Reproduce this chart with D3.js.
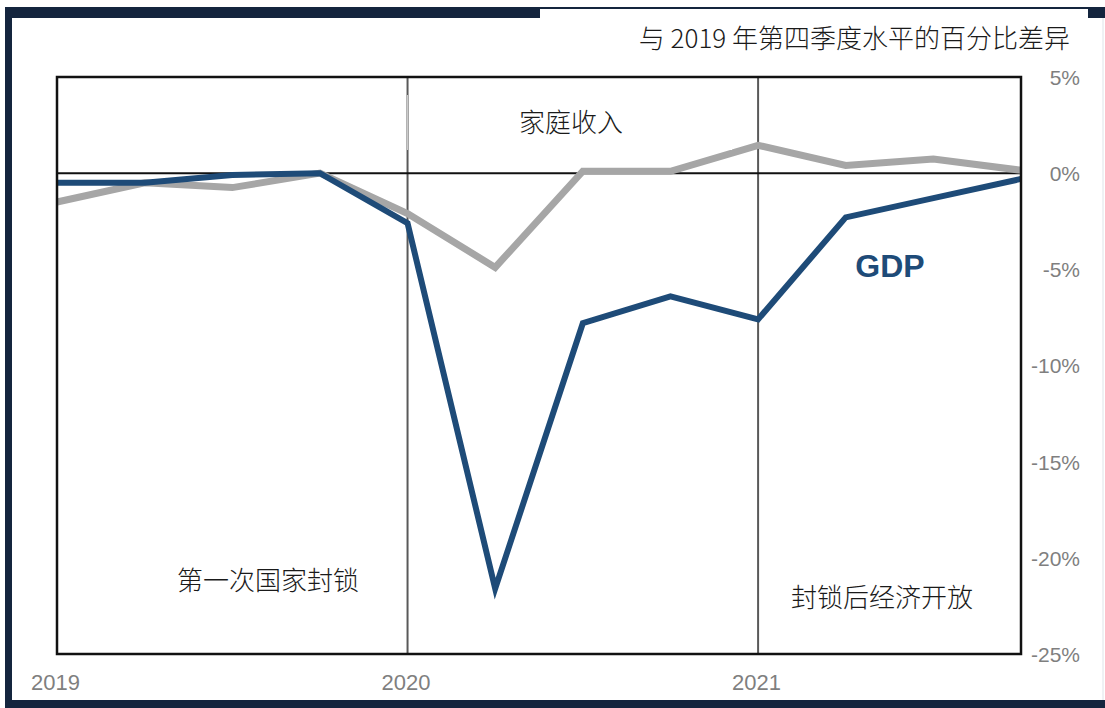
<!DOCTYPE html>
<html>
<head>
<meta charset="utf-8">
<script src="https://cdn.jsdelivr.net/npm/d3@7"></script>
<style>
  body { margin: 0; background: #fff; }
  svg { display: block; }
</style>
</head>
<body>
<div id="chart"></div>
<script>
// Quarters from 2019 Q1 to 2021 Q4
const quarters = ["2019Q1","2019Q2","2019Q3","2019Q4","2020Q1","2020Q2","2020Q3","2020Q4","2021Q1","2021Q2","2021Q3","2021Q4"];
// % difference from 2019 Q4 level
const gdp    = [-0.5, -0.5, -0.1, 0.0, -2.6, -21.6, -7.8, -6.4, -7.6, -2.3, -1.3, -0.3];
const income = [-1.5, -0.5, -0.75, 0.0, -2.1, -4.9, 0.1, 0.1, 1.45, 0.4, 0.73, 0.15];
const yearTicks = [{ q: "2019Q1", label: "2019" }, { q: "2020Q1", label: "2020" }, { q: "2021Q1", label: "2021" }];
const yTicks = [5, 0, -5, -10, -15, -20, -25];

const width = 1105, height = 708;
const plot = { left: 57, right: 1021, top: 77, bottom: 654 };
const navy = "#14253e";

const svg = d3.select("#chart").append("svg")
  .attr("width", width)
  .attr("height", height);

/* Outer frame (navy bars) */
svg.append("rect").attr("x", 5).attr("y", 7).attr("width", 7).attr("height", 701).attr("fill", navy);
svg.append("rect").attr("x", 5).attr("y", 7).attr("width", 535).attr("height", 11).attr("fill", navy);
svg.append("rect").attr("x", 540).attr("y", 7).attr("width", 548).attr("height", 2).attr("fill", navy);
svg.append("rect").attr("x", 1088).attr("y", 7).attr("width", 17).attr("height", 11).attr("fill", navy);
svg.append("rect").attr("x", 5).attr("y", 700).attr("width", 1100).attr("height", 8).attr("fill", navy);
svg.append("line").attr("x1", 1103).attr("x2", 1103).attr("y1", 18).attr("y2", 700)
  .attr("stroke", "#dfe3e8").attr("stroke-width", 1);

// Scales
const x = d3.scalePoint().domain(quarters).range([plot.left, plot.right]);
const y = d3.scaleLinear().domain([-25, 5]).range([plot.bottom, plot.top]);

// Y axis on the right, labels only
const yAxis = d3.axisRight(y).tickValues(yTicks).tickSize(0).tickPadding(0)
  .tickFormat(d => d + "%");
svg.append("g")
  .attr("transform", `translate(${plot.right + 59}, 0)`)
  .call(yAxis)
  .call(g => g.select(".domain").remove())
  .call(g => g.selectAll("text")
    .attr("text-anchor", "end")
    .attr("dy", "0.35em")
    .style("font-family", "Liberation Sans, Arial, sans-serif")
    .style("font-size", "21px")
    .attr("fill", "#7f7f7f"));

// X axis: year labels
const xAxis = d3.axisBottom(x).tickValues(yearTicks.map(d => d.q)).tickSize(0).tickPadding(0)
  .tickFormat(q => yearTicks.find(d => d.q === q).label);
svg.append("g")
  .attr("transform", `translate(-2, ${plot.bottom + 20})`)
  .call(xAxis)
  .call(g => g.select(".domain").remove())
  .call(g => g.selectAll("text")
    .style("font-family", "Liberation Sans, Arial, sans-serif")
    .style("font-size", "22px")
    .attr("fill", "#7f7f7f"));

// Year separators
svg.append("g").selectAll("line")
  .data(yearTicks.slice(1))
  .join("line")
  .attr("x1", d => x(d.q)).attr("x2", d => x(d.q))
  .attr("y1", plot.top).attr("y2", plot.bottom)
  .attr("stroke", "#595959").attr("stroke-width", 2);

// Zero line
svg.append("line")
  .attr("x1", plot.left).attr("x2", plot.right)
  .attr("y1", y(0)).attr("y2", y(0))
  .attr("stroke", "#111").attr("stroke-width", 2);

// Lines
const line = d3.line().x((d, i) => x(quarters[i])).y(d => y(d));
svg.append("path").datum(income)
  .attr("d", line).attr("fill", "none")
  .attr("stroke", "#a6a6a6").attr("stroke-width", 7).attr("stroke-linejoin", "miter");
svg.append("path").datum(gdp)
  .attr("d", line).attr("fill", "none")
  .attr("stroke", "#1e4b78").attr("stroke-width", 6).attr("stroke-linejoin", "miter");

// White box for income label (covers part of the 2020 line)
svg.append("rect").attr("x", 410).attr("y", 95).attr("width", 322).attr("height", 55).attr("fill", "#fff");
svg.append("line").attr("x1", x("2020Q1")).attr("x2", x("2020Q1")).attr("y1", 95).attr("y2", 150)
  .attr("stroke", "#cfcfcf").attr("stroke-width", 1);

// Plot border
svg.append("rect")
  .attr("x", plot.left).attr("y", plot.top)
  .attr("width", plot.right - plot.left).attr("height", plot.bottom - plot.top)
  .attr("fill", "none").attr("stroke", "#111").attr("stroke-width", 2.5);

// Title box
svg.append("rect").attr("x", 540).attr("y", 9).attr("width", 548).attr("height", 50).attr("fill", "#fff");
svg.append("text")
  .attr("x", 1070).attr("y", 48)
  .attr("text-anchor", "end")
  .style("font-family", "Noto Sans CJK SC, sans-serif")
  .style("font-size", "26px")
  .style("font-weight", 300)
  .attr("fill", "#1a1a1a")
  .text("与 2019 年第四季度水平的百分比差异");

// Annotations
const cjk = "Noto Sans CJK SC, sans-serif";
svg.append("text").attr("x", 571).attr("y", 132).attr("text-anchor", "middle")
  .style("font-family", cjk).style("font-size", "26px").style("font-weight", 300)
  .attr("fill", "#1a1a1a").text("家庭收入");
svg.append("text").attr("x", 268).attr("y", 590).attr("text-anchor", "middle")
  .style("font-family", cjk).style("font-size", "26px").style("font-weight", 300)
  .attr("fill", "#1a1a1a").text("第一次国家封锁");
svg.append("text").attr("x", 882).attr("y", 607).attr("text-anchor", "middle")
  .style("font-family", cjk).style("font-size", "26px").style("font-weight", 300)
  .attr("fill", "#1a1a1a").text("封锁后经济开放");
svg.append("text").attr("x", 890).attr("y", 277).attr("text-anchor", "middle")
  .style("font-family", "Liberation Sans, Arial, sans-serif").style("font-size", "32px")
  .style("font-weight", "bold").attr("fill", "#1e4b78").text("GDP");
</script>
</body>
</html>
